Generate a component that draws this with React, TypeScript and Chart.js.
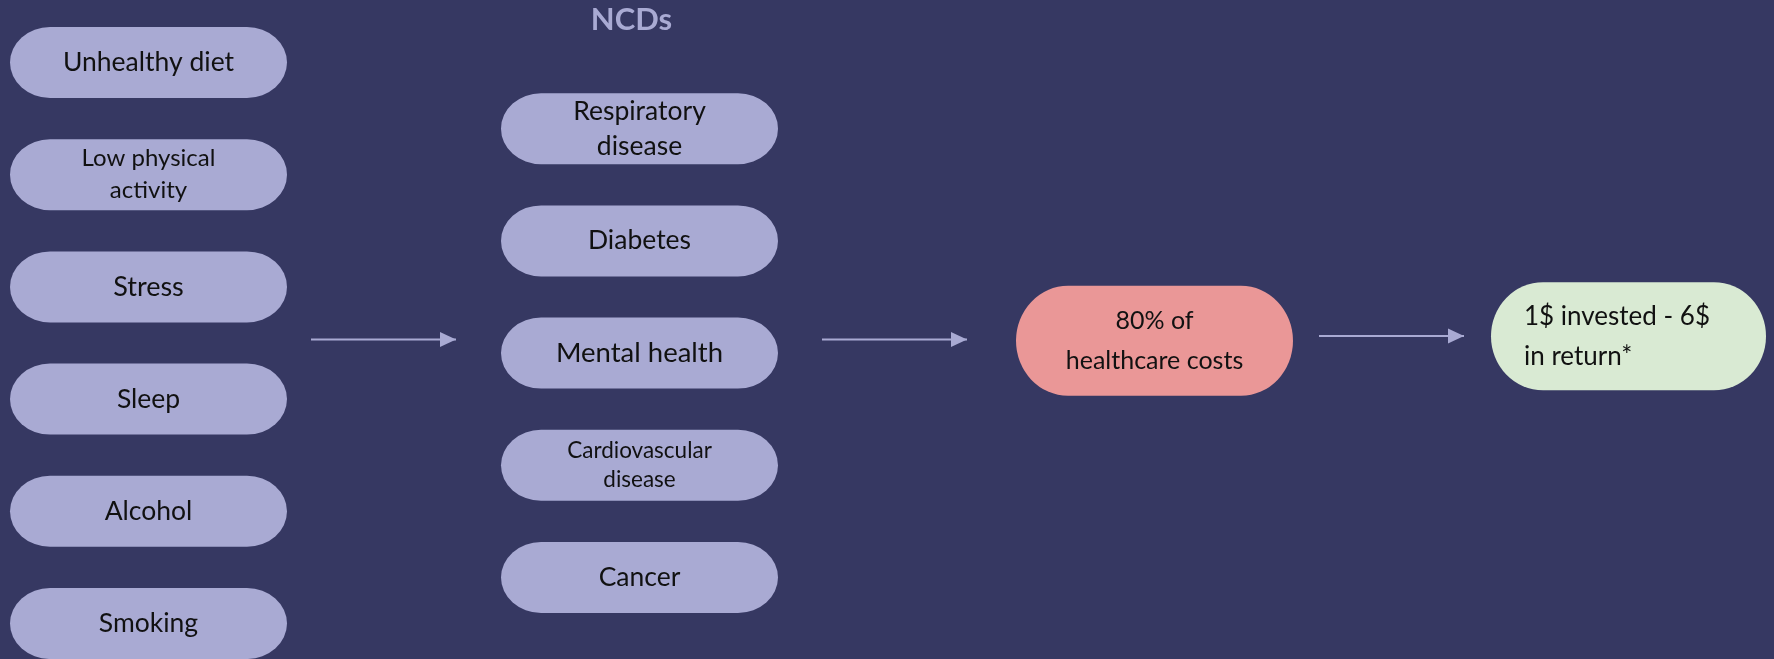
import React, { useEffect, useRef } from "react";
import { Chart, registerables } from "chart.js";

Chart.register(...registerables);

// ---- Data (layout units: x = horizontal layout units, y = row index) ----
const riskFactors = ["Unhealthy diet", "Low physical\nactivity", "Stress", "Sleep", "Alcohol", "Smoking"];
const riskRows = [0, 1, 2, 3, 4, 5];
const riskFontSizes = [26.5, 24, 27, 26.5, 26.5, 26.5];
const riskLineHeights = [32, 32, 32, 32, 32, 32];

const ncdTitle = "NCDs";
const ncds = ["Respiratory\ndisease", "Diabetes", "Mental health", "Cardiovascular\ndisease", "Cancer"];
const ncdRows = [0.59, 1.59, 2.59, 3.59, 4.59];
const ncdFontSizes = [26.5, 26.5, 27.5, 22.5, 26.5];
const ncdLineHeights = [35, 35, 35, 29, 35];

const outcomes = ["80% of\nhealthcare costs", "1$ invested - 6$\nin return*"];
const outcomeRows = [2.48, 2.44];

const columnX = [148.5, 639.5, 1154.5, 1628.5];
const arrowStartX = [311, 822, 1319];
const arrowEndX = [456, 967, 1464];
const arrowRows = [2.469, 2.469, 2.438];

const BG = "#363862";
const LAVENDER = "#A9AAD3";
const RED = "#EA9797";
const GREEN = "#D9EAD3";
const FONT = "Lato, 'Open Sans', sans-serif";

type NodeMeta = {
  labels: string[];
  fontSizes: number[];
  lineHeights: number[];
  fill: string;
  w: number;
  h: number;
  radiusX: number;
  align: "center" | "left";
};

const pillPlugin = {
  id: "pills",
  afterDatasetsDraw(chart: any) {
    const ctx: CanvasRenderingContext2D = chart.ctx;
    const xs = chart.scales.x;
    const ys = chart.scales.y;
    chart.data.datasets.forEach((ds: any, di: number) => {
      const meta = chart.getDatasetMeta(di);
      if (ds.kind === "arrow") {
        const pts = meta.data;
        const end = pts[pts.length - 1];
        ctx.save();
        ctx.fillStyle = LAVENDER;
        ctx.beginPath();
        ctx.moveTo(end.x, end.y);
        ctx.lineTo(end.x - 16, end.y - 7.5);
        ctx.lineTo(end.x - 16, end.y + 7.5);
        ctx.closePath();
        ctx.fill();
        ctx.restore();
        return;
      }
      if (ds.kind === "title") {
        const p = meta.data[0];
        ctx.save();
        ctx.fillStyle = LAVENDER;
        ctx.font = `bold 31px ${FONT}`;
        ctx.textAlign = "center";
        ctx.textBaseline = "middle";
        ctx.fillText(ds.title, p.x, p.y);
        ctx.restore();
        return;
      }
      if (ds.kind !== "node") return;
      const nm: NodeMeta = ds.nodeMeta;
      const wPx = Math.abs(xs.getPixelForValue(nm.w) - xs.getPixelForValue(0));
      const hPx = Math.abs(ys.getPixelForValue(nm.h) - ys.getPixelForValue(0));
      meta.data.forEach((pt: any, i: number) => {
        const x0 = pt.x - wPx / 2;
        const y0 = pt.y - hPx / 2;
        const rx = Math.min(nm.radiusX, wPx / 2);
        const ry = hPx / 2;
        ctx.save();
        ctx.fillStyle = nm.fill;
        ctx.beginPath();
        ctx.moveTo(x0 + rx, y0);
        ctx.lineTo(x0 + wPx - rx, y0);
        ctx.ellipse(x0 + wPx - rx, pt.y, rx, ry, 0, -Math.PI / 2, Math.PI / 2);
        ctx.lineTo(x0 + rx, y0 + hPx);
        ctx.ellipse(x0 + rx, pt.y, rx, ry, 0, Math.PI / 2, (3 * Math.PI) / 2);
        ctx.closePath();
        ctx.fill();
        const fs = nm.fontSizes[i];
        ctx.fillStyle = "#111111";
        ctx.font = `${fs}px ${FONT}`;
        ctx.textBaseline = "middle";
        const lines = nm.labels[i].split("\n");
        const lh = nm.lineHeights[i];
        const startY = pt.y - ((lines.length - 1) * lh) / 2;
        lines.forEach((ln, li) => {
          if (nm.align === "left") {
            ctx.textAlign = "left";
            ctx.fillText(ln, x0 + 33, startY + li * lh);
          } else {
            ctx.textAlign = "center";
            ctx.fillText(ln, pt.x, startY + li * lh);
          }
        });
        ctx.restore();
      });
    });
  },
};

export default function App() {
  const ref = useRef<HTMLCanvasElement | null>(null);

  useEffect(() => {
    if (!ref.current) return;
    document.body.style.margin = "0";
    const rowPx = 112.2;
    const firstRowPx = 62.5;
    const yMin = -firstRowPx / rowPx;
    const yMax = (659 - firstRowPx) / rowPx;

    const arrowDatasets = arrowStartX.map((sx, i) => ({
      kind: "arrow",
      type: "line",
      data: [
        { x: sx, y: arrowRows[i] },
        { x: arrowEndX[i] - 14, y: arrowRows[i] },
        { x: arrowEndX[i], y: arrowRows[i] },
      ],
      borderColor: LAVENDER,
      borderWidth: 2,
      pointRadius: 0,
      showLine: true,
      fill: false,
    }));

    const chart = new Chart(ref.current, {
      type: "scatter",
      data: {
        datasets: [
          ...arrowDatasets,
          {
            kind: "title",
            title: ncdTitle,
            data: [{ x: columnX[1] - 8, y: -0.38 }],
            pointRadius: 0,
          },
          {
            kind: "node",
            data: riskRows.map((r) => ({ x: columnX[0], y: r })),
            pointRadius: 0,
            nodeMeta: {
              labels: riskFactors,
              fontSizes: riskFontSizes,
              lineHeights: riskLineHeights,
              fill: LAVENDER,
              w: 277,
              h: 0.633,
              radiusX: 40,
              align: "center",
            },
          },
          {
            kind: "node",
            data: ncdRows.map((r) => ({ x: columnX[1], y: r })),
            pointRadius: 0,
            nodeMeta: {
              labels: ncds,
              fontSizes: ncdFontSizes,
              lineHeights: ncdLineHeights,
              fill: LAVENDER,
              w: 277,
              h: 0.633,
              radiusX: 40,
              align: "center",
            },
          },
          {
            kind: "node",
            data: [{ x: columnX[2], y: outcomeRows[0] }],
            pointRadius: 0,
            nodeMeta: {
              labels: [outcomes[0]],
              fontSizes: [25],
              lineHeights: [40],
              fill: RED,
              w: 277,
              h: 0.98,
              radiusX: 52,
              align: "center",
            },
          },
          {
            kind: "node",
            data: [{ x: columnX[3], y: outcomeRows[1] }],
            pointRadius: 0,
            nodeMeta: {
              labels: [outcomes[1]],
              fontSizes: [26],
              lineHeights: [40],
              fill: GREEN,
              w: 275,
              h: 0.963,
              radiusX: 52,
              align: "left",
            },
          },
        ] as any,
      },
      options: {
        responsive: false,
        animation: false,
        devicePixelRatio: 1,
        layout: { padding: 0 },
        plugins: { legend: { display: false }, tooltip: { enabled: false } },
        events: [],
        scales: {
          x: { type: "linear", min: 0, max: 1774, display: false },
          y: { type: "linear", min: yMin, max: yMax, reverse: true, display: false },
        },
      },
      plugins: [pillPlugin],
    });
    return () => chart.destroy();
  }, []);

  return (
    <div style={{ position: "absolute", left: 0, top: 0, width: 1774, height: 659, background: BG }}>
      <canvas ref={ref} width={1774} height={659} style={{ display: "block" }} />
    </div>
  );
}
